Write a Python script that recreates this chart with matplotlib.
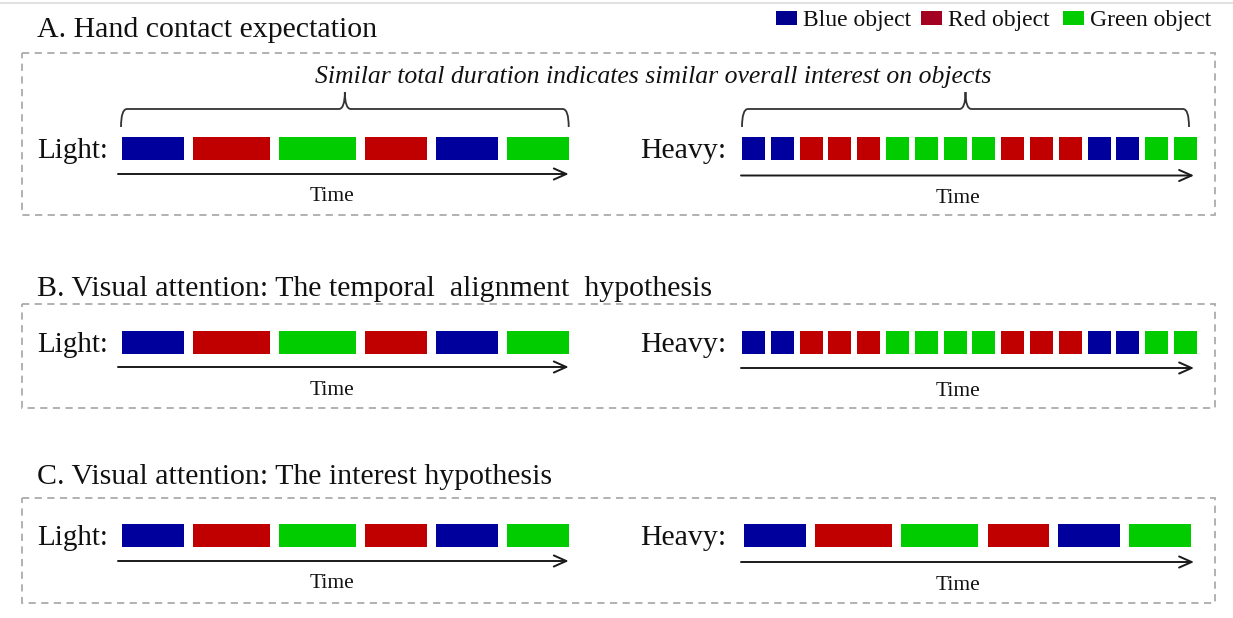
import matplotlib
matplotlib.use('Agg')
import matplotlib.pyplot as plt
from matplotlib.patches import Rectangle, FancyArrowPatch, PathPatch
from matplotlib.path import Path
import numpy as np

plt.rcParams['font.family'] = ['Liberation Serif', 'DejaVu Serif']

# ---------------- data ----------------
panel_titles = ['A. Hand contact expectation',
                'B. Visual attention: The temporal  alignment  hypothesis',
                'C. Visual attention: The interest hypothesis']
light_sequence = ['blue', 'red', 'green', 'red', 'blue', 'green']
light_durations = [4, 5, 5, 4, 4, 4]
heavy_sequence_AB = ['blue', 'blue', 'red', 'red', 'red', 'green', 'green', 'green',
                     'green', 'red', 'red', 'red', 'blue', 'blue', 'green', 'green']
heavy_durations_AB = [1, 1, 1, 1, 1, 1, 1, 1, 1, 1, 1, 1, 1, 1, 1, 1]
heavy_sequence_C = ['blue', 'red', 'green', 'red', 'blue', 'green']
heavy_durations_C = [4, 5, 5, 4, 4, 4]
legend_labels = ['Blue object', 'Red object', 'Green object']
legend_keys = ['blue', 'red', 'green']
row_labels = ['Light:', 'Heavy:']
axis_label = 'Time'
brace_note = 'Similar total duration indicates similar overall interest on objects'

# ---------------- style ----------------
bar_colors = {'blue': '#00009C', 'red': '#C00000', 'green': '#00CC00'}
legend_colors = {'blue': '#00008F', 'red': '#A30022', 'green': '#00CC00'}
TXT = '#111111'

W, H = 1233, 618
fig = plt.figure(figsize=(W / 100, H / 100), dpi=100)
ax = fig.add_axes([0, 0, 1, 1])
ax.set_xlim(0, W)
ax.set_ylim(H, 0)
ax.axis('off')

# top thin rule
ax.plot([0, W], [3, 3], color='#dcdcdc', lw=1.2)


def draw_sequence(x0, yc, seq, durs, unit, gap, h=23):
    starts = x0 + np.concatenate([[0], np.cumsum(np.array(durs) * unit + gap)[:-1]])
    for s, d, c in zip(starts, durs, seq):
        ax.add_patch(Rectangle((s, yc - h / 2), d * unit, h,
                               facecolor=bar_colors[c], edgecolor='none'))
    return starts[-1] + durs[-1] * unit


def draw_arrow(x0, x1, y):
    ax.add_patch(FancyArrowPatch((x0, y), (x1, y), arrowstyle='->,head_length=9,head_width=4',
                                 color='#1a1a1a', lw=1.4, mutation_scale=1,
                                 shrinkA=0, shrinkB=0))


def draw_brace(x0, x1, yb, yl, yt, r=6):
    xc = (x0 + x1) / 2
    verts = [(x0, yb), (x0, yl), (x0 + r, yl),
             (xc - r, yl), (xc, yl), (xc, yt),
             (xc, yl), (xc + r, yl),
             (x1 - r, yl), (x1, yl), (x1, yb)]
    codes = [Path.MOVETO, Path.CURVE3, Path.CURVE3,
             Path.LINETO, Path.CURVE3, Path.CURVE3,
             Path.CURVE3, Path.CURVE3,
             Path.LINETO, Path.CURVE3, Path.CURVE3]
    ax.add_patch(PathPatch(Path(verts, codes), facecolor='none',
                           edgecolor='#333333', lw=1.3))


panels = [
    dict(title_y=37, box=(53, 215), bar_y=148, label_y=158, arrow_y=(174, 175.5), time_y=(201, 203),
         heavy=(heavy_sequence_AB, heavy_durations_AB, 23.0, 5.8, 742)),
    dict(title_y=296, box=(304, 408), bar_y=342, label_y=352, arrow_y=(367, 368), time_y=(395, 396),
         heavy=(heavy_sequence_AB, heavy_durations_AB, 23.0, 5.8, 742)),
    dict(title_y=484, box=(498, 603), bar_y=535, label_y=545, arrow_y=(561, 562), time_y=(588, 590),
         heavy=(heavy_sequence_C, heavy_durations_C, 15.4, 9.3, 744)),
]

for i, p in enumerate(panels):
    ax.text(37, p['title_y'], panel_titles[i], fontsize=21.5, ha='left', va='baseline', color=TXT)
    y0, y1 = p['box']
    ax.add_patch(Rectangle((22, y0), 1215 - 22, y1 - y0, fill=False,
                           edgecolor='#ababab', lw=1.3, linestyle=(0, (4, 3))))
    # light row
    ax.text(37, p['label_y'], row_labels[0], fontsize=21, ha='left', va='baseline', color=TXT)
    lend = draw_sequence(122, p['bar_y'], light_sequence, light_durations, 15.45, 9.0)
    draw_arrow(118, lend, p['arrow_y'][0])
    ax.text(331.5, p['time_y'][0], axis_label, fontsize=15.5, ha='center',
            va='baseline', color=TXT)
    # heavy row
    seq, durs, unit, gap, hx0 = p['heavy']
    ax.text(640, p['label_y'], row_labels[1], fontsize=21.5, ha='left', va='baseline', color=TXT)
    hend = draw_sequence(hx0, p['bar_y'], seq, durs, unit, gap)
    draw_arrow(741, 1194, p['arrow_y'][1])
    ax.text(957.5, p['time_y'][1], axis_label, fontsize=15.5, ha='center',
            va='baseline', color=TXT)
    if i == 0:
        draw_brace(121, lend, 127, 109, 92)
        draw_brace(742, 1189, 127, 109, 92)

ax.text(653, 83, brace_note, fontsize=18.5, style='italic', ha='center', va='baseline', color=TXT)

# legend
lx = [776, 921, 1063]
for x, k, lab in zip(lx, legend_keys, legend_labels):
    ax.add_patch(Rectangle((x, 11), 21, 14, facecolor=legend_colors[k], edgecolor='none'))
    ax.text(x + 27, 26, lab, fontsize=17, ha='left', va='baseline', color=TXT)

fig.savefig('out.png', dpi=100)
